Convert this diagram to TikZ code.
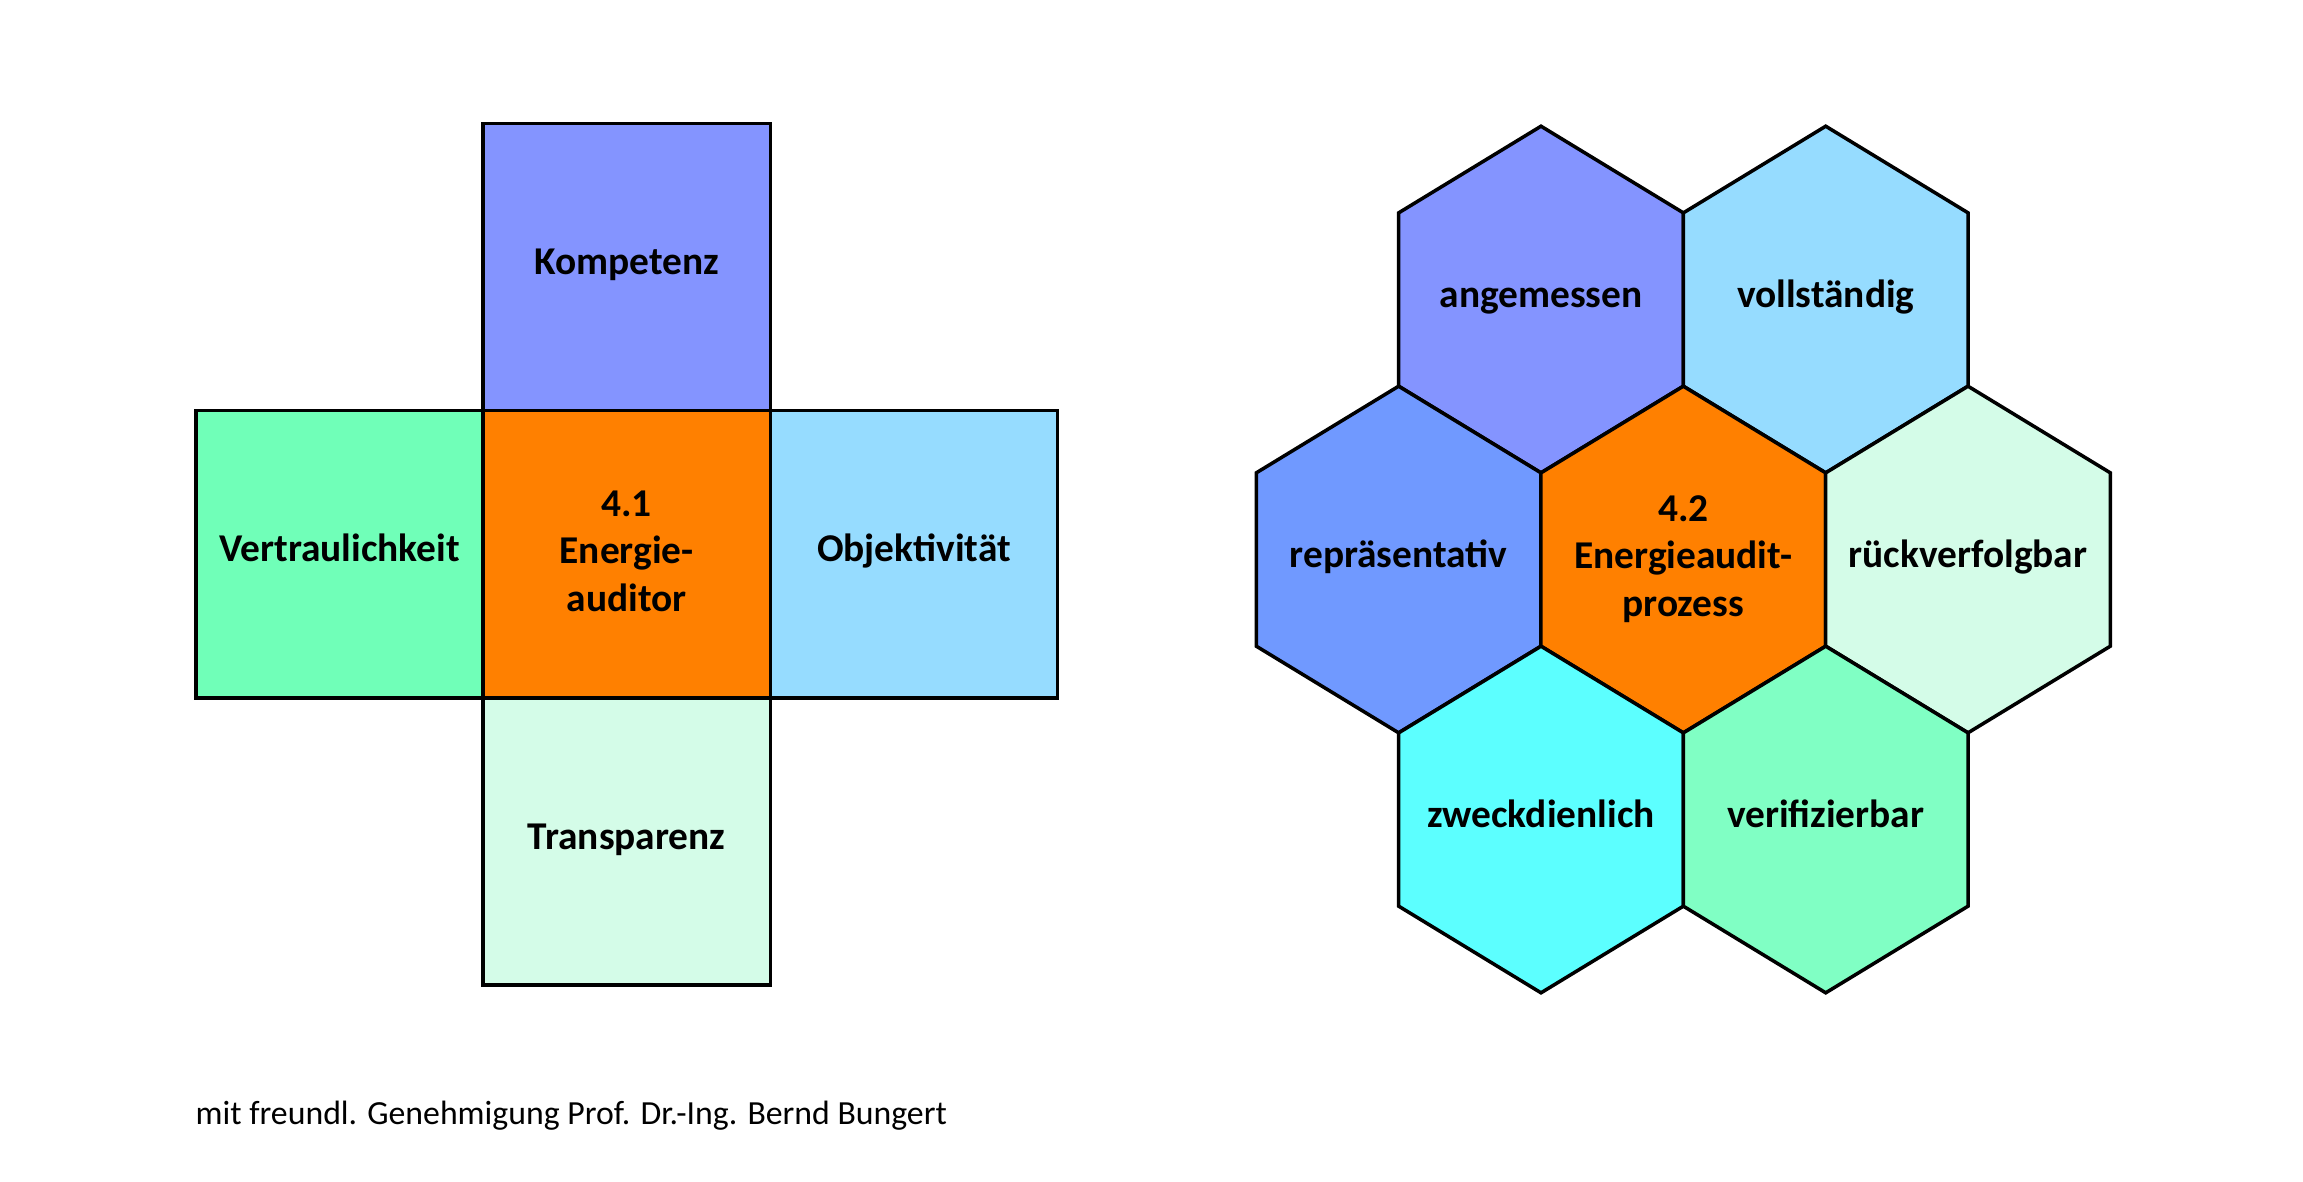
\documentclass[tikz,border=0pt]{standalone}
\usepackage{fontspec}
\setmainfont{Carlito}
\usepackage{xcolor}
\usepackage{tikz}
\usetikzlibrary{shapes, positioning, calc}
\definecolor{blauKomp}{HTML}{8494FF}
\definecolor{gruenVert}{HTML}{70FFB8}
\definecolor{blauObj}{HTML}{96DCFF}
\definecolor{gruenTrans}{HTML}{D4FCE8}
\definecolor{orangeMitte}{HTML}{FF8000}
\definecolor{blauRep}{HTML}{7099FF}
\definecolor{cyanZweck}{HTML}{5CFFFF}
\definecolor{gruenVerif}{HTML}{80FFC4}

\newcommand{\wabenfeld}[5][einzeilig]{%
  \coordinate (#2) at (#3);
  \filldraw[wabe, fill=#4] ($(#2)+(0,-173.3)$) -- ++(142.35,86.65) -- ++(0,173.3) -- ++(-142.35,86.65) -- ++(-142.35,-86.65) -- ++(0,-173.3) -- cycle;
  \node[wabentext, #1] (#2Text) at (#2) {#5};}

\begin{document}
\begin{tikzpicture}[x=0.01cm, y=-0.01cm,
                    schrift/.style={font=\bfseries\fontsize{11.2}{13.5}\selectfont, align=center, text depth=0.2em},
                    feld/.style={schrift, draw, line width=1pt, minimum size=2.87cm, outer sep=0pt, inner sep=0pt},
                    einzeilig/.style={text height=0.63em},
                    mehrzeilig/.style={},
                    wabe/.style={draw, line width=1pt},
                    wabentext/.style={schrift, inner sep=0pt}]
                    \useasboundingbox (0,0) rectangle (2303,1181);

                    \node[feld, fill=orangeMitte] (Mitte) at (626.7,554.3) {4.1\\Energie-\\auditor};
                    \node[feld, einzeilig, fill=blauKomp, above=0pt of Mitte] (Oben) {Kompetenz};
                    \node[feld, einzeilig, fill=gruenVert, left=0pt of Mitte] (Links) {Vertraulichkeit};
                    \node[feld, einzeilig, fill=blauObj, right=0pt of Mitte] (Rechts) {Objektivität};
                    \node[feld, einzeilig, fill=gruenTrans, below=0pt of Mitte] (Unten) {Transparenz};

                    \wabenfeld{Wabe1}{1541,299.5}{blauKomp}{angemessen}
                    \wabenfeld{Wabe2}{1825.7,299.5}{blauObj}{vollständig}
                    \wabenfeld{Wabe3}{1398.6,559.5}{blauRep}{repräsentativ}
                    \wabenfeld[mehrzeilig]{WabeMitte}{1683.3,559.5}{orangeMitte}{4.2\\Energieaudit-\\prozess}
                    \wabenfeld{Wabe4}{1968,559.5}{gruenTrans}{rückverfolgbar}
                    \wabenfeld{Wabe5}{1541,819.5}{cyanZweck}{zweckdienlich}
                    \wabenfeld{Wabe6}{1825.7,819.5}{gruenVerif}{verifizierbar}

                    \node[anchor=base west, inner sep=0pt, font=\fontsize{9.6}{11}\selectfont] (Hinweis) at (195,1124) {mit freundl. Genehmigung Prof. Dr.-Ing. Bernd Bungert};
                \end{tikzpicture}
\end{document}
